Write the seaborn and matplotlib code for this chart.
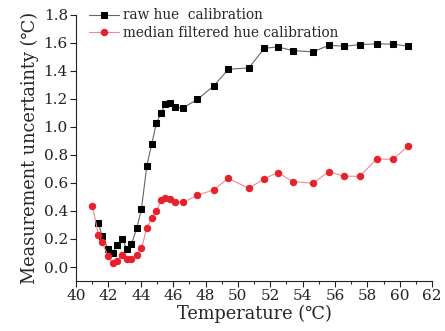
import matplotlib
matplotlib.use("Agg")
import matplotlib.pyplot as plt
import seaborn as sns
import numpy as np
from matplotlib.ticker import MultipleLocator

temps_raw = [41.38, 41.61, 41.96, 42.25, 42.55, 42.84, 43.13, 43.42, 43.75, 44.04,
             44.37, 44.68, 44.96, 45.27, 45.52, 45.83, 46.10, 46.61, 47.50, 48.51,
             49.41, 50.67, 51.64, 52.46, 53.41, 54.63, 55.62, 56.56, 57.53, 58.58,
             59.59, 60.54]
raw_unc = [0.312, 0.221, 0.131, 0.102, 0.155, 0.202, 0.131, 0.162, 0.279, 0.414,
           0.724, 0.881, 1.029, 1.102, 1.167, 1.174, 1.145, 1.136, 1.198, 1.293,
           1.412, 1.421, 1.562, 1.571, 1.545, 1.536, 1.583, 1.576, 1.588, 1.593,
           1.591, 1.576]
temps_med = [41.01] + temps_raw
med_unc = [0.436, 0.231, 0.181, 0.076, 0.031, 0.045, 0.086, 0.060, 0.055, 0.086,
           0.133, 0.279, 0.348, 0.402, 0.476, 0.493, 0.486, 0.467, 0.462, 0.512,
           0.552, 0.633, 0.562, 0.631, 0.674, 0.610, 0.598, 0.681, 0.648, 0.648,
           0.771, 0.769, 0.867]
labels = ["raw hue  calibration", "median filtered hue calibration"]
xticks = list(range(40, 63, 2))
yticks = [0.0, 0.2, 0.4, 0.6, 0.8, 1.0, 1.2, 1.4, 1.6, 1.8]

sns.set_style("ticks")
plt.rcParams['font.family'] = ['DejaVu Serif', 'DejaVu Sans']
plt.rcParams['mathtext.fontset'] = 'dejavuserif'

fig = plt.figure(figsize=(4.45, 3.31), dpi=100)
ax = fig.add_axes([0.171, 0.151, 0.800, 0.804])

sns.lineplot(x=temps_raw, y=raw_unc, ax=ax, color="#666666", linewidth=0.8,
             marker="s", markersize=3.9, markerfacecolor="black",
             markeredgecolor="black", label=labels[0])
sns.lineplot(x=temps_med, y=med_unc, ax=ax, color="#f28a8a", linewidth=0.8,
             marker="o", markersize=4.6, markerfacecolor="#e8202a",
             markeredgecolor="#e8202a", label=labels[1])

ax.set_xlim(40, 62)
ax.set_ylim(-0.1, 1.8)
ax.set_xticks(xticks)
ax.set_yticks(yticks)
ax.set_yticklabels([f"{v:.1f}" for v in yticks])
ax.xaxis.set_minor_locator(MultipleLocator(1))
ax.tick_params(axis='both', which='major', direction='out', length=4, width=0.8,
               labelsize=11, colors='#222222', pad=2)
ax.tick_params(axis='x', which='minor', direction='out', length=2.5, width=0.8)
for s in ["top", "right"]:
    ax.spines[s].set_visible(False)
for s in ["left", "bottom"]:
    ax.spines[s].set_linewidth(0.8)
    ax.spines[s].set_color('#222222')

ax.set_xlabel("Temperature (℃)", fontsize=12.8, labelpad=1)
ax.set_ylabel("Measurement uncertainty (℃)", fontsize=12.8, labelpad=3)

leg = ax.legend(loc="upper left", bbox_to_anchor=(0.02, 1.045), frameon=False,
                fontsize=9.8, handlelength=2.2, handletextpad=0.3,
                labelspacing=0.25, borderaxespad=0)

fig.savefig("out.png", dpi=100)
